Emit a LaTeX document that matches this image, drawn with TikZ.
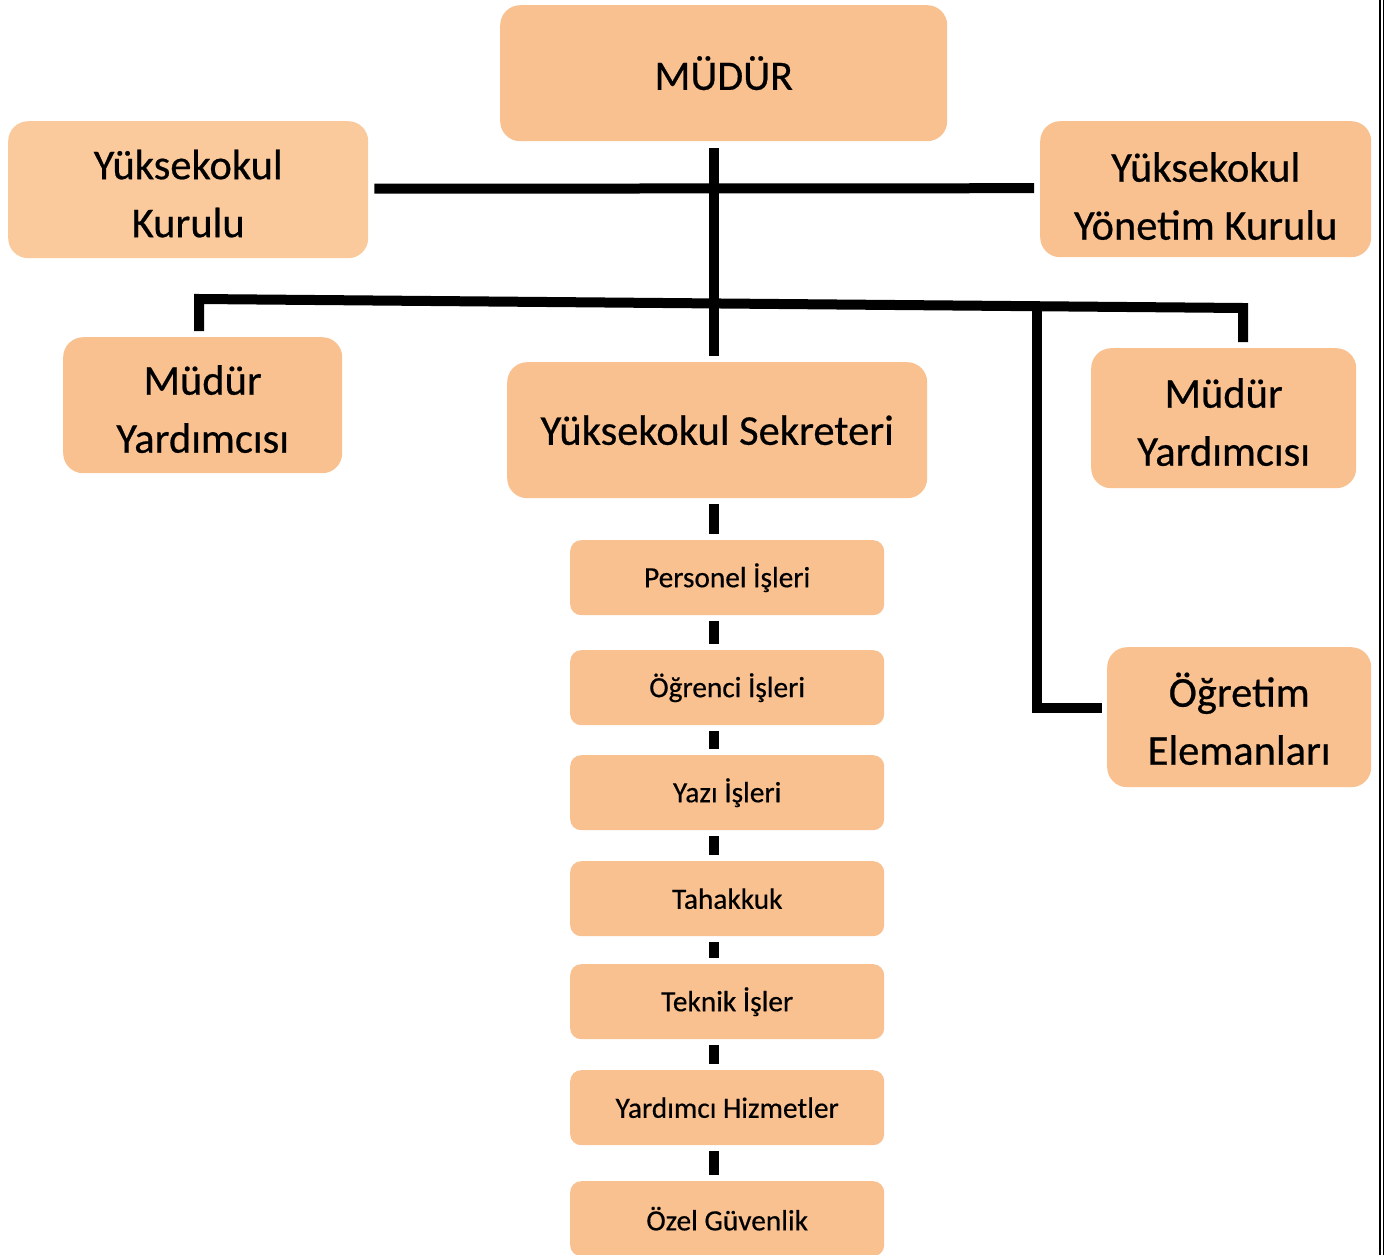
\documentclass[tikz,border=0pt]{standalone}
\usepackage{fontspec}
\setmainfont{Carlito}[FakeBold=0.5]
\usetikzlibrary{calc}
\definecolor{boxfill}{HTML}{F9C090}
\definecolor{boxlight}{HTML}{FBCA9C}
\tikzset{
  box/.style={fill=boxfill, draw=none, rounded corners=20pt, anchor=north west,
    align=center, inner sep=0pt, text=black},
  bigtext/.style={font=\fontsize{42.5pt}{58pt}\selectfont},
  twoline/.style={box, font=\fontsize{42.5pt}{58pt}\selectfont, text height=95pt, text depth=0pt},
  smallbox/.style={box, rounded corners=11pt, minimum width=314pt, minimum height=75pt,
    font=\fontsize{29.3pt}{34pt}\selectfont},
  conn/.style={line width=10pt, line join=miter},
  dashconn/.style={conn, shorten <=6pt, shorten >=6pt},
  border/.style={line width=1.7pt}
}
\begin{document}
\begin{tikzpicture}[x=1pt,y=-1pt]
\useasboundingbox (0,0) rectangle (1398,1255);
\fill[white] (0,0) rectangle (1398,1255);

% boxes
\node[box, minimum width=447pt, minimum height=136pt, font=\fontsize{42pt}{50pt}\selectfont] (mudur) at (500,5) {MÜDÜR};
\node[twoline, fill=boxlight, minimum width=360pt, minimum height=137pt] (kurulu) at (8,121) {Yüksekokul\\Kurulu};
\node[twoline, text height=101pt, minimum width=331pt, minimum height=136pt] (yonetim) at (1040,121) {Yüksekokul\\Yönetim Kurulu};
\node[twoline, minimum width=279pt, minimum height=136pt] (myl) at (63,337) {Müdür\\Yardımcısı};
\node[box, minimum width=420pt, minimum height=136pt, bigtext] (sek) at (507,362) {Yüksekokul Sekreteri};
\node[twoline, minimum width=265pt, minimum height=140pt] (myr) at (1091,348) {Müdür\\Yardımcısı};
\node[twoline, minimum width=264pt, minimum height=140pt] (ogr) at (1107,647) {Öğretim\\Elemanları};

\node[smallbox] (p1) at (570,540) {Personel İşleri};
\node[smallbox] (p2) at (570,650) {Öğrenci İşleri};
\node[smallbox] (p3) at (570,755) {Yazı İşleri};
\node[smallbox] (p4) at (570,861) {Tahakkuk};
\node[smallbox] (p5) at (570,964) {Teknik İşler};
\node[smallbox] (p6) at (570,1070) {Yardımcı Hizmetler};
\node[smallbox] (p7) at (570,1181) {Özel Güvenlik};

% junction coordinates
\coordinate (mx) at (714,0);
\coordinate (jl) at (199,299);
\coordinate (jr) at (1243,308);
\coordinate (jv) at (1037,306);

% connectors
\draw[conn] ($(mudur.south -| mx)+(0,7)$) -- ($(sek.north -| mx)+(0,-6)$);
\draw[conn] ($(kurulu.east)+(6,-1)$) -- ($(yonetim.west)+(-6,-1)$);
\draw[conn] ($(myl.north -| jl)+(0,-6)$) -- (jl) -- (jr) -- ($(myr.north -| jr)+(0,-6)$);
\draw[conn] (jv) -- ($(ogr.west -| jv)+(0,-9)$) -- ($(ogr.west)+(-5,-9)$);

\draw[dashconn] (sek.south -| mx) -- (p1.north -| mx);
\draw[dashconn] (p1.south -| mx) -- (p2.north -| mx);
\draw[dashconn] (p2.south -| mx) -- (p3.north -| mx);
\draw[dashconn] (p3.south -| mx) -- (p4.north -| mx);
\draw[dashconn] (p4.south -| mx) -- (p5.north -| mx);
\draw[dashconn] (p5.south -| mx) -- (p6.north -| mx);
\draw[dashconn] (p6.south -| mx) -- (p7.north -| mx);

% right border double rule
\draw[border] (1380,0) -- (1380,1255);
\draw[border] (1383.4,0) -- (1383.4,1255);
\end{tikzpicture}
\end{document}
